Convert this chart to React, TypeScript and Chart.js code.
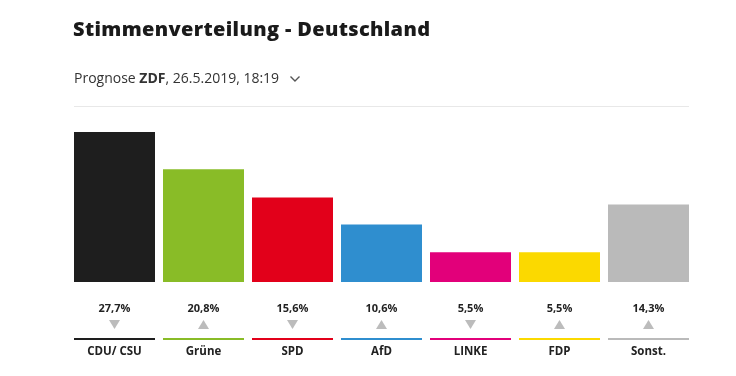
import React, { useEffect, useRef } from "react";
import { Chart, registerables } from "chart.js";

Chart.register(...registerables);

const parties = ["CDU/ CSU", "Grüne", "SPD", "AfD", "LINKE", "FDP", "Sonst."];
const shares = [27.7, 20.8, 15.6, 10.6, 5.5, 5.5, 14.3];
const shareLabels = ["27,7%", "20,8%", "15,6%", "10,6%", "5,5%", "5,5%", "14,3%"];
const trends = ["down", "up", "down", "up", "down", "up", "up"];
const colors = ["#1e1e1e", "#89bc27", "#e2001a", "#2f8ecf", "#e2007a", "#fbd900", "#bababa"];

const FONT = "'Open Sans', Lato, sans-serif";

const labelPlugin = {
  id: "partyLabels",
  afterDraw(chart: any) {
    const ctx = chart.ctx;
    const x = chart.scales.x;
    const meta = chart.getDatasetMeta(0);
    const bottom = chart.chartArea.bottom;
    ctx.save();
    meta.data.forEach((bar: any, i: number) => {
      const cx = x.getPixelForValue(i);
      const w = bar.width;
      ctx.fillStyle = "#222";
      ctx.textAlign = "center";
      ctx.textBaseline = "middle";
      ctx.font = "bold 11px " + FONT;
      ctx.fillText(shareLabels[i], cx, bottom + 27);
      // triangle
      ctx.fillStyle = "#bcbcbc";
      ctx.beginPath();
      if (trends[i] === "down") {
        ctx.moveTo(cx - 5.5, bottom + 38);
        ctx.lineTo(cx + 5.5, bottom + 38);
        ctx.lineTo(cx, bottom + 47);
      } else {
        ctx.moveTo(cx - 5.5, bottom + 47);
        ctx.lineTo(cx + 5.5, bottom + 47);
        ctx.lineTo(cx, bottom + 38);
      }
      ctx.closePath();
      ctx.fill();
      // colored line
      ctx.fillStyle = colors[i];
      ctx.fillRect(cx - w / 2, bottom + 56, w, 2);
      // party name
      ctx.fillStyle = "#222";
      ctx.font = "bold 11.5px " + FONT;
      ctx.fillText(parties[i], cx, bottom + 70);
    });
    ctx.restore();
  },
};

export default function App() {
  const ref = useRef<HTMLCanvasElement>(null);
  useEffect(() => {
    if (!ref.current) return;
    const chart = new Chart(ref.current, {
      type: "bar",
      data: {
        labels: parties,
        datasets: [
          {
            data: shares,
            backgroundColor: colors,
            borderWidth: 0,
            categoryPercentage: 1,
            barPercentage: 81 / 89,
          },
        ],
      },
      options: {
        animation: false,
        responsive: false,
        maintainAspectRatio: false,
        layout: { padding: { left: 70, right: 43, top: 132, bottom: 94 } },
        plugins: { legend: { display: false }, tooltip: { enabled: false }, title: { display: false } },
        scales: {
          x: { display: false },
          y: { display: false, min: 0, max: 27.7 },
        },
      },
      plugins: [labelPlugin],
    });
    return () => chart.destroy();
  }, []);
  return (
    <div style={{ position: "absolute", left: 0, top: 0, width: 736, height: 376, background: "#fff", fontFamily: FONT }}>
      <canvas ref={ref} width={736} height={376} style={{ position: "absolute", left: 0, top: 0 }} />
      <div style={{ position: "absolute", left: 73, top: 15, fontSize: 20, fontWeight: 800, color: "#1a1a1a", whiteSpace: "nowrap", letterSpacing: 0.35 }}>
        Stimmenverteilung - Deutschland
      </div>
      <div style={{ position: "absolute", left: 74, top: 68, fontSize: 14, color: "#333", whiteSpace: "nowrap" }}>
        Prognose <b>ZDF</b>, 26.5.2019, 18:19
        <svg width="12" height="8" viewBox="0 0 12 8" style={{ marginLeft: 10, verticalAlign: "middle" }}>
          <path d="M1.5 1.5 L6 6 L10.5 1.5" fill="none" stroke="#555" strokeWidth="1.4" />
        </svg>
      </div>
      <div style={{ position: "absolute", left: 74, top: 106, width: 615, height: 1, background: "#e8e8e8" }} />
    </div>
  );
}
